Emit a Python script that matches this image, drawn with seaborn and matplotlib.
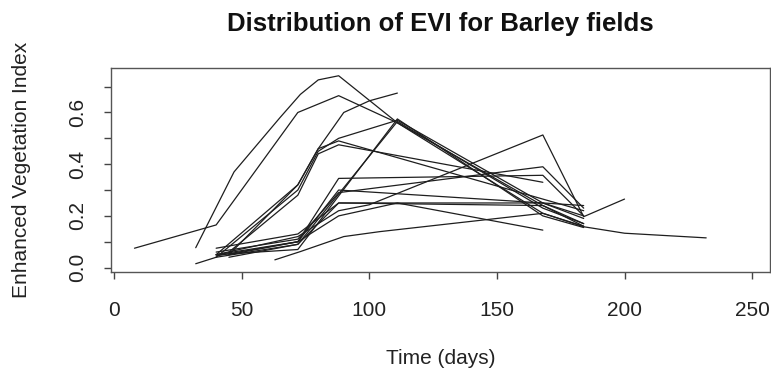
import numpy as np
import pandas as pd
import matplotlib
matplotlib.use("Agg")
import matplotlib.pyplot as plt
import seaborn as sns

# EVI time series per barley field (day of year, EVI)
f01_days = [8, 40, 72, 88, 111, 168, 184]
f01_evi = [0.075, 0.165, 0.60, 0.665, 0.56, 0.24, 0.17]
f02_days = [32, 47, 65, 73, 80, 88, 111, 168, 184]
f02_evi = [0.077, 0.37, 0.58, 0.67, 0.726, 0.742, 0.56, 0.21, 0.16]
f03_days = [45, 72, 80, 90, 100, 111]
f03_evi = [0.05, 0.32, 0.46, 0.60, 0.645, 0.675]
f04_days = [40, 72, 80, 88, 111, 168, 184]
f04_evi = [0.04, 0.30, 0.45, 0.50, 0.57, 0.25, 0.20]
f05_days = [40, 72, 80, 88, 184]
f05_evi = [0.05, 0.32, 0.46, 0.49, 0.22]
f06_days = [45, 72, 80, 88, 168]
f06_evi = [0.06, 0.28, 0.44, 0.475, 0.33]
f07_days = [40, 72, 111, 168, 184]
f07_evi = [0.05, 0.07, 0.575, 0.20, 0.155]
f08_days = [45, 72, 111, 168, 184]
f08_evi = [0.04, 0.09, 0.565, 0.23, 0.17]
f09_days = [40, 72, 88, 168, 184]
f09_evi = [0.05, 0.10, 0.345, 0.357, 0.20]
f10_days = [40, 72, 88, 168, 184]
f10_evi = [0.06, 0.11, 0.29, 0.39, 0.23]
f11_days = [40, 72, 88, 100, 168, 184, 200]
f11_evi = [0.05, 0.12, 0.22, 0.243, 0.513, 0.197, 0.265]
f12_days = [63, 73, 90, 104, 168, 184, 200, 232]
f12_evi = [0.03, 0.062, 0.12, 0.139, 0.21, 0.158, 0.133, 0.115]
f13_days = [32, 40, 72, 88, 168, 184]
f13_evi = [0.015, 0.04, 0.09, 0.25, 0.25, 0.19]
f14_days = [40, 72, 88, 168, 184]
f14_evi = [0.075, 0.13, 0.25, 0.24, 0.16]
f15_days = [45, 72, 88, 111, 168]
f15_evi = [0.05, 0.10, 0.20, 0.25, 0.145]
f16_days = [40, 72, 88, 184]
f16_evi = [0.045, 0.10, 0.30, 0.24]

fields = [
    (f01_days, f01_evi), (f02_days, f02_evi), (f03_days, f03_evi), (f04_days, f04_evi),
    (f05_days, f05_evi), (f06_days, f06_evi), (f07_days, f07_evi), (f08_days, f08_evi),
    (f09_days, f09_evi), (f10_days, f10_evi), (f11_days, f11_evi), (f12_days, f12_evi),
    (f13_days, f13_evi), (f14_days, f14_evi), (f15_days, f15_evi), (f16_days, f16_evi),
]

x_ticks = [0, 50, 100, 150, 200, 250]
y_ticks = [0.0, 0.1, 0.2, 0.3, 0.4, 0.5, 0.6, 0.7]
y_tick_labels = ["0.0", "", "0.2", "", "0.4", "", "0.6", ""]

rows = []
for i, (days, evi) in enumerate(fields):
    for d, v in zip(days, evi):
        rows.append({"field": i, "day": d, "evi": v})
df = pd.DataFrame(rows)

sns.set_style("white")
plt.rcParams["font.family"] = ["Liberation Sans", "DejaVu Sans"]

fig = plt.figure(figsize=(7.71, 3.71), dpi=100)
ax = fig.add_axes([111 / 771, 1 - 272 / 371, 659 / 771, 204 / 371])

sns.lineplot(data=df, x="day", y="evi", units="field", estimator=None,
             color="#1e1e1e", linewidth=0.9, legend=False, ax=ax)

ax.set_xlim(-1.2, 257)
ax.set_ylim(-0.017, 0.772)
ax.set_xticks(x_ticks)
ax.set_xticklabels([str(t) for t in x_ticks])
ax.set_yticks(y_ticks)
ax.set_yticklabels(y_tick_labels, rotation=90, va="center")

ax.tick_params(axis="both", direction="out", length=5, width=1,
               color="#444444", labelcolor="#222222", labelsize=15)
ax.tick_params(axis="x", bottom=True, pad=16)
ax.tick_params(axis="y", left=True, pad=12)
for s in ax.spines.values():
    s.set_color("#555555")
    s.set_linewidth(1)

ax.set_xlabel("Time (days)", fontsize=15, color="#222222")
ax.set_ylabel("Enhanced Vegetation Index", fontsize=15, color="#222222")
ax.xaxis.set_label_coords(0.5, (272 - 358) / 204)
ax.xaxis.label.set_va("center")
ax.yaxis.set_label_coords((22 - 111) / 659, 0.5)
ax.yaxis.label.set_va("center")

ax.set_title("Distribution of EVI for Barley fields", fontsize=18.5,
             fontweight="bold", color="#111111", pad=27)

fig.savefig("out.png", dpi=100)
